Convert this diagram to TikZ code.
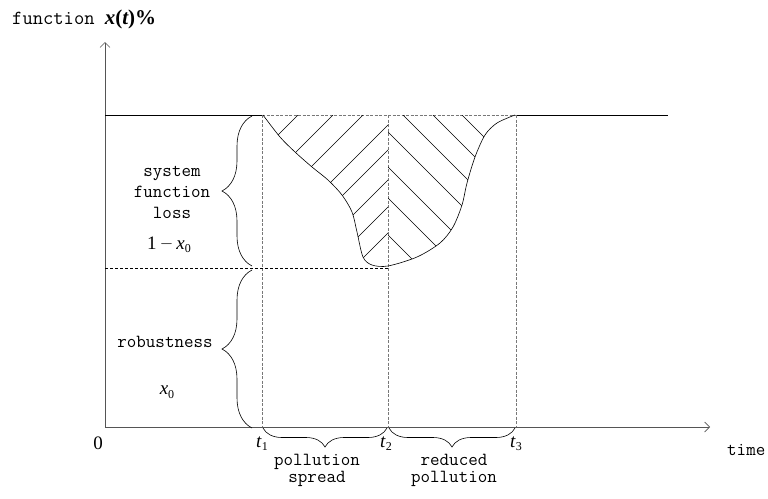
\documentclass[tikz,border=0pt]{standalone}
\usepackage{fontspec}
\setmainfont{Liberation Serif}
\usepackage{tikz}
\usetikzlibrary{arrows.meta,decorations.pathreplacing,calc}
\definecolor{axisgray}{RGB}{85,85,85}
\definecolor{guidegray}{RGB}{120,120,120}
\newcommand{\idx}[2]{\textit{#1}\raisebox{-3.5pt}{\fontsize{12}{12}\selectfont #2}}

\begin{document}
\begin{tikzpicture}[x=1pt,y=-1pt,
  axis/.style={axisgray,line width=0.7pt,-{Straight Barb[length=5pt,width=10pt]}},
  guide/.style={guidegray,dash pattern=on 3pt off 1.5pt,line width=0.6pt},
  level/.style={black,dash pattern=on 3pt off 2pt,line width=0.6pt},
  hatch/.style={black,line width=0.5pt},
  curly/.style={decorate,decoration={brace,amplitude=#1},line width=0.6pt},
  word/.style={font=\ttfamily\fontsize{18.5}{#1}\selectfont,align=center,inner sep=0pt},
  word/.default=21,
  sym/.style={font=\fontsize{19}{20}\selectfont,inner sep=0pt}]
  \useasboundingbox (0,0) rectangle (768,498);

  % ---- geometry ----
  % baseline y=427, full function y=115, robustness level y=268
  \def\yb{427}
  \def\yf{115}
  \def\yr{268}
  \coordinate (O)    at (105,\yb);
  \coordinate (ytip) at (105,42);
  \coordinate (xtip) at (710,\yb);
  \coordinate (full) at (105,\yf);
  \coordinate (fend) at (668,\yf);
  \coordinate (rob)  at (105,\yr);
  \foreach \n/\tx in {1/262,2/388,3/516}{
    \coordinate (t\n)  at (\tx,\yb);
    \coordinate (t\n top) at (\tx,\yf);
  }
  \coordinate (robend) at (388,\yr);

  % ---- axes and levels ----
  \draw[axis] (O) -- (ytip);
  \draw[axis] (O) -- (xtip);
  \draw[line width=0.6pt] (full) -- (t1top);
  \draw[line width=0.6pt] (t3top) -- (fend);
  \draw[guide] (t1top) -- (t3top);
  \foreach \n in {1,2,3}{\draw[guide] (t\n top) -- (t\n);}
  \draw[level] (rob) -- (robend);

  % ---- hatched loss area ----
  \begin{scope}
    \clip plot[smooth] coordinates {(263,115) (280,137) (295,152) (312,167) (328,180) (342,195)
      (352,212) (357,232) (363,257) (372,265) (388,266) (417,257) (440,243) (453,227)
      (462,205) (467,183) (475,157) (485,135) (497,123) (515,115)} -- cycle;
    \begin{scope}
      \clip (250,100) rectangle (388,280);
      \foreach \c in {413,448,478,513,538,568,595,621}{
        \draw[hatch] ({\c-100},100) -- ({\c-300},300);
      }
    \end{scope}
    \begin{scope}
      \clip (388,100) rectangle (530,280);
      \foreach \d in {-347,-318,-288,-256,-221,-190,-153}{
        \draw[hatch] ({100-\d},100) -- ({300-\d},300);
      }
    \end{scope}
  \end{scope}
  \draw[line width=0.6pt] plot[smooth] coordinates {(263,115) (280,137) (295,152) (312,167)
    (328,180) (342,195) (352,212) (357,232) (363,257) (372,265) (388,266) (417,257)
    (440,243) (453,227) (462,205) (467,183) (475,157) (485,135) (497,123) (515,115)};

  % ---- braces ----
  \draw[curly=30] (252,266) -- (252,116);
  \draw[curly=30] (252,428) -- (252,270);
  \draw[curly=19] (387,428) -- (263,428);
  \draw[curly=19] (515,428) -- (389,428);

  % ---- labels ----
  \node[anchor=base west,inner sep=0pt] (ylabel) at (12,24)
    {{\ttfamily\fontsize{20}{20}\selectfont function }{\fontsize{21}{20}\selectfont\bfseries\itshape x\upshape(\itshape t\upshape)\%}};
  \node[word,anchor=base west] (xlabel) at (727,455) {time};
  \node[sym] (zero) at (98,443) {0};
  \foreach \n/\tx in {1/262,2/386,3/516}{
    \node[sym,anchor=base] (t\n lbl) at (\tx,447) {\idx{t}{\n}};
  }
  \node[word] (loss) at (172,192) {system\\function\\loss};
  \node[sym] (losssym) at (169,245) {1\,\raisebox{1pt}{$-$}\,\idx{x}{0}};
  \node[word] (robust) at (165,342) {robustness};
  \node[sym] (robsym) at (167,392) {\idx{x}{0}};
  \node[word=17] (spread) at (317,470) {pollution\\spread};
  \node[word=17] (reduce) at (454,470) {reduced\\pollution};
\end{tikzpicture}
\end{document}
